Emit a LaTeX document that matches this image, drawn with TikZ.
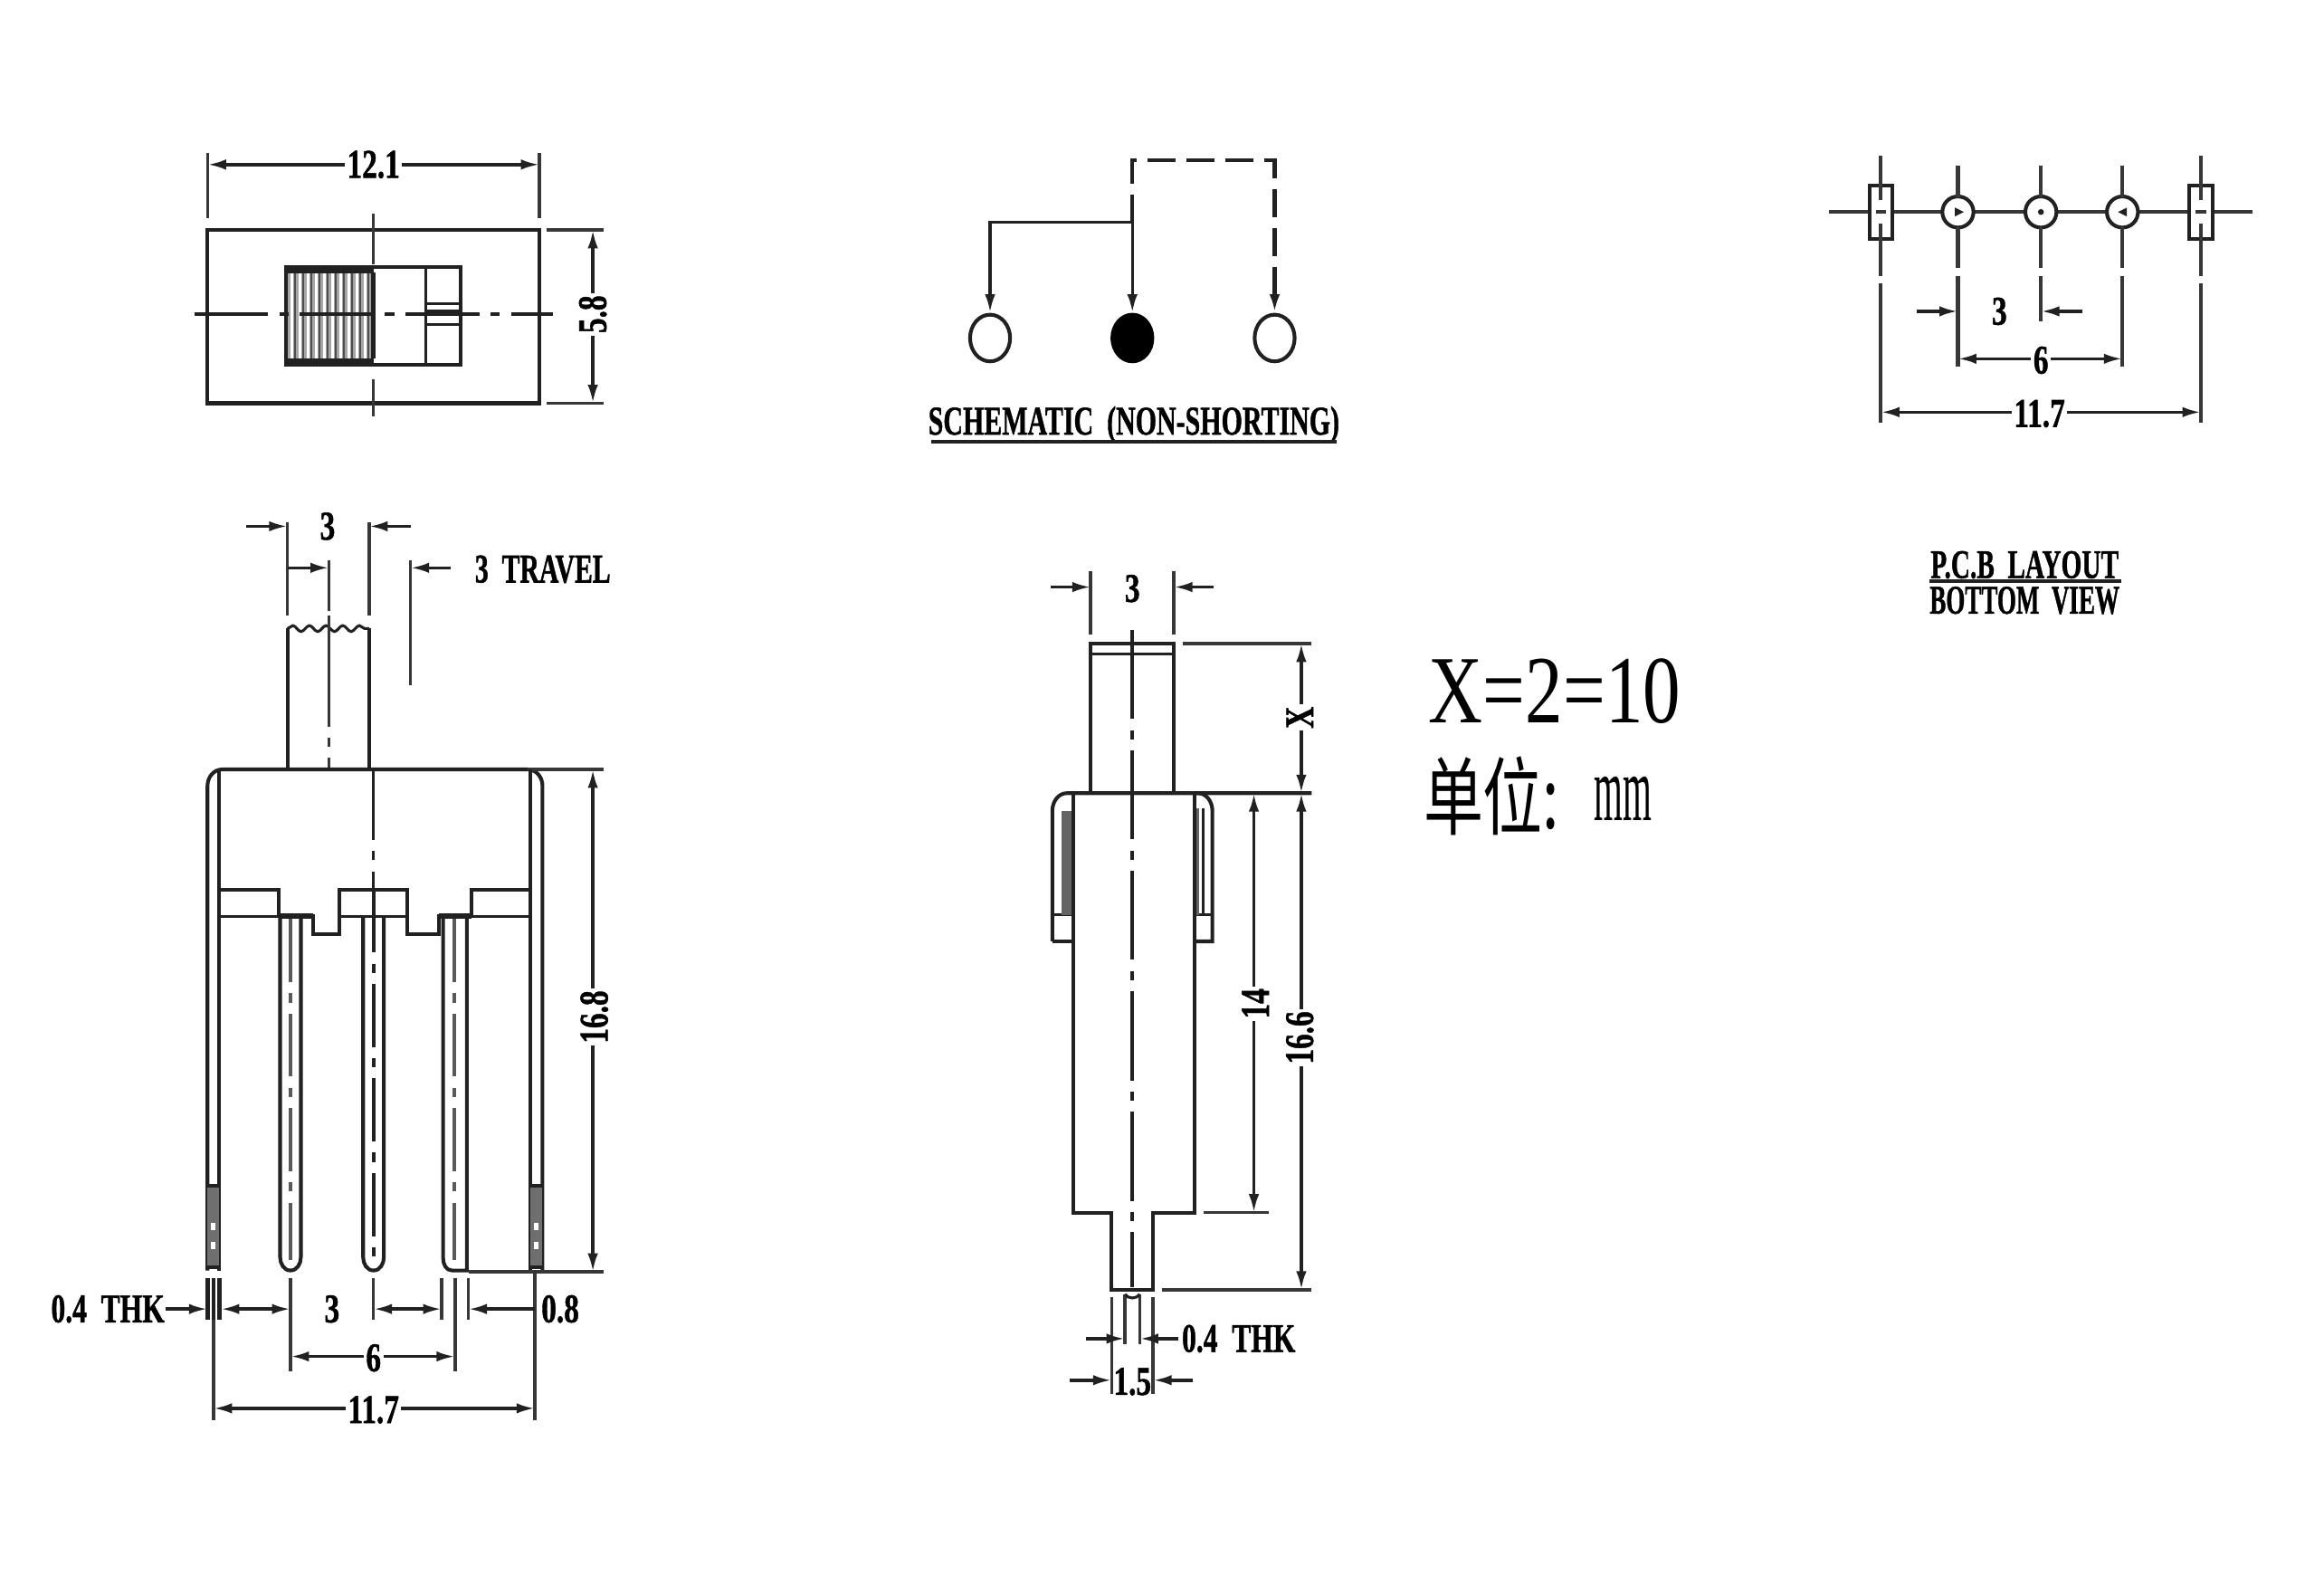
\documentclass[tikz,border=0pt]{standalone}
\usepackage{fontspec}
\usepackage{graphicx}
\setmainfont[BoldFeatures={FakeBold=1.2}]{Liberation Serif}
\newfontfamily\cjkf{Noto Sans CJK SC}
\usetikzlibrary{arrows.meta,decorations.pathmorphing,shapes.geometric}
\newcommand{\lblx}[2]{\scalebox{#1}[1]{\fontsize{11pt}{12pt}\selectfont\bfseries #2}}
\newcommand{\lbl}[1]{\lblx{.74}{#1}}
\definecolor{ink}{gray}{0.13}
\tikzset{
  part/.style={draw=ink,line width=1pt,line join=miter},
  thinp/.style={draw=ink,line width=.75pt},
  ext/.style={draw=ink!90,line width=.85pt},
  dimb/.style={draw=ink,line width=.85pt,{Latex[length=5pt,width=2.8pt]}-{Latex[length=5pt,width=2.8pt]}},
  dime/.style={draw=ink,line width=.85pt,-{Latex[length=5pt,width=2.8pt]}},
  cline/.style={draw=ink,line width=.85pt,dash pattern=on 19pt off 3pt on 2.5pt off 3pt},
  pcline/.style={draw=black!65,line width=1pt,dash pattern=on 17pt off 3pt on 2.5pt off 3pt},
  txt/.style={inner sep=.6pt,fill=white},
  hole/.style={circle,draw=ink,line width=1pt,fill=white,minimum size=8.4pt,inner sep=0pt},
  slot/.style={draw=ink,line width=.95pt,fill=white,minimum width=6.2pt,minimum height=14.4pt,inner sep=0pt},
  term/.style={ellipse,draw=ink,line width=1pt,minimum width=10.8pt,minimum height=12.6pt,inner sep=0pt},
}
\begin{document}
\begin{tikzpicture}[x=0.4pt,y=-0.4pt]
\useasboundingbox (0,0) rectangle (1568,1062.4);
% ---------- top left view
\draw[part] (140,155) rectangle (364,272);
\draw[ext] (140,103)--(140,147) (364,103)--(364,147);
\draw[dimb] (140,111)--(364,111);
\node[txt] (d121) at (252,111) {\lbl{12.1}};
\draw[ext] (369,155)--(407,155) (369,272)--(407,272);
\draw[dimb] (400,155)--(400,272);
\node[txt,rotate=90] (d58) at (400,212) {\lbl{5.8}};
% slider
\fill[gray!70] (193,180) rectangle (252,246);
\foreach \x in {197,202.5,208,213.5,219,224.5,230,235.5,241,246.5}{
  \draw[white,line width=.8pt] (\x,184)--(\x,242);
  \draw[ink!80,line width=.55pt] (\x+2,184)--(\x+2,242);
}
\fill[ink] (193,180) rectangle (252,184.5);
\fill[ink] (193,241.5) rectangle (252,246);
\draw[part] (193,180) rectangle (311,246);
\draw[part,line width=1.3pt] (252,184)--(252,242);
\draw[thinp] (287,180)--(287,246);
\draw[thinp] (287,205)--(311,205) (287,210)--(311,210) (287,219)--(311,219);
\draw[cline,dash pattern=on 20pt off 3pt on 2.5pt off 3pt] (131,212)--(373,212);
\draw[ext] (252,144)--(252,178) (252,256)--(252,281);
% ---------- schematic
\node[term] (sa) at (668,228) {};
\node[term,fill=black,draw=black] (sb) at (764,228) {};
\node[term] (sc) at (860,228) {};
\coordinate (sj) at (764,150);
\coordinate (st) at (764,108);
\coordinate (sr) at (860,108);
\draw[dime] (sj)--(sb.north);
\draw[dime] (sj)--(668,150)--(sa.north);
\draw[draw=ink,line width=1pt,dash pattern=on 7.5pt off 3pt] (sj)--(st)--(sr)--(860,196);
\draw[dime,line width=1pt] (860,196)--(sc.north);
\node (schem) at (765,286.5) {\lblx{.665}{SCHEMATIC\ \ (NON-SHORTING)}};
\draw[draw=ink,line width=1.1pt] (628,298)--(902,298);
% ---------- pcb layout
\draw[ext,line width=1.1pt] (1234,143)--(1520,143);
\node[slot] (pa) at (1269,143) {};
\node[slot] (pe) at (1485,143) {};
\node[hole] (pb) at (1321,143) {};
\node[hole] (pc) at (1377,143) {};
\node[hole] (pd) at (1432,143) {};
\fill[ink] (1319,140)--(1325,143)--(1319,146)--cycle;
\fill[ink] (1377,143) circle (2);
\fill[ink] (1435,140)--(1429,143)--(1435,146)--cycle;
\draw[ext,line width=1pt] (1269,105)--(1269,135) (1269,151)--(1269,186) (1269,191)--(1269,285)
  (1485,105)--(1485,135) (1485,151)--(1485,186) (1485,191)--(1485,285)
  (1321,112)--(1321,133) (1321,153)--(1321,181) (1321,186)--(1321,247)
  (1377,112)--(1377,133) (1377,153)--(1377,181) (1377,186)--(1377,217)
  (1432,112)--(1432,133) (1432,153)--(1432,181) (1432,186)--(1432,247);
\draw[ext,line width=1pt] (1265.5,143)--(1272.5,143) (1481.5,143)--(1488.5,143);
\draw[dime] (1293,210)--(1321,210);
\draw[dime] (1405,210)--(1377,210);
\node (p3) at (1349,210) {\lbl{3}};
\draw[dimb] (1321,242)--(1432,242);
\node[txt] (p6) at (1377,243) {\lbl{6}};
\draw[dimb] (1269,278)--(1485,278);
\node[txt] (p117) at (1376,279) {\lbl{11.7}};
\node (pl1) at (1366,381) {\lblx{.65}{P.C.B\ \ LAYOUT}};
\draw[draw=ink,line width=1.2pt] (1302,392)--(1431,392);
\node (pl2) at (1366,405) {\lblx{.6}{BOTTOM\ \ VIEW}};
% ---------- notes
\node[inner sep=0pt] (xeq) at (1049,466) {\scalebox{.78}[1]{\fontsize{26pt}{28pt}\selectfont X=2=10}};
\node[inner sep=0pt,anchor=west] (unit) at (960,537) {\scalebox{.7}[1]{\fontsize{23pt}{26pt}\selectfont\cjkf 单位:}};
\node[inner sep=0pt,anchor=west] (mm) at (1075,539) {\scalebox{.4}[1]{\fontsize{25pt}{28pt}\selectfont mm}};
% ---------- front view
\draw[part] (194,519)--(194,424) (249,424)--(249,519);
\draw[thinp,decorate,decoration={snake,amplitude=.8pt,segment length=4.5pt}] (194,424)--(249,424);
\draw[ext] (194,352)--(194,415) (249,352)--(249,415);
\draw[dime] (166,355)--(194,355);
\draw[dime] (277,355)--(249,355);
\node (f3) at (221,355) {\lbl{3}};
\draw[dime] (194,383)--(222,383);
\draw[ext] (222,378)--(222,412);
\draw[ext,dash pattern=on 30pt off 3pt on 2.5pt off 3pt] (222,415)--(222,519);
\draw[ext] (277,378)--(277,462);
\draw[dime] (304,383)--(277,383);
\node[anchor=west,inner sep=0pt] (ftr) at (320,384) {\lblx{.66}{3\ \ TRAVEL}};
% body
\draw[part] (140,857)--(140,530) to[out=90,in=180] (150,519)--(356,519) to[out=0,in=90] (366,530)--(366,857);
\draw[ext] (356,519)--(407,519);
\draw[part] (148,519)--(148,857) (358,519)--(358,857);
\draw[part] (148,600)--(188,600)--(188,618)--(211,618)--(211,630)--(229,630)--(229,600)--(275,600)--(275,630)--(296,630)--(296,618)--(318,618)--(318,600)--(358,600);
\draw[thinp] (148,618)--(188,618) (229,618)--(275,618) (318,618)--(358,618);
\draw[draw=ink,line width=1.5pt] (188,618)--(211,618) (296,618)--(318,618);
% side lead tips
\fill[ink!65] (140,800) rectangle (148,855);
\fill[ink!65] (358,800) rectangle (366,855);
\draw[part] (140,800)--(148,800) (358,800)--(366,800) (140,855)--(148,855) (358,855)--(366,855);
\draw[white,line width=1.2pt,dash pattern=on 2pt off 3pt] (144,825)--(144,845);
\draw[white,line width=1.2pt,dash pattern=on 2pt off 3pt] (362,825)--(362,845);
% pins
\draw[part] (189,618)--(189,848) to[out=-90,in=180] (196,857) to[out=0,in=-90] (203,848)--(203,618);
\draw[part] (245,618)--(245,848) to[out=-90,in=180] (252,857) to[out=0,in=-90] (259,848)--(259,618);
\draw[part] (299,618)--(299,849) to[out=-90,in=180] (305,857) -- (315,857) -- (315,618);
\draw[pcline] (196,620)--(196,850);
\draw[pcline] (306.5,620)--(306.5,850);
\draw[cline] (252,519)--(252,600);
\draw[pcline,draw=ink] (252,600)--(252,850);
% 16.8
\draw[ext] (316,858)--(407,858);
\draw[dimb] (400,519)--(400,858);
\node[txt,rotate=90] (d168) at (401,686) {\lbl{16.8}};
% bottom dims
\draw[part,line width=1.1pt] (140,862)--(140,890) (144,862)--(144,890) (148,862)--(148,890);
\draw[ext] (144,890)--(144,958) (361,858)--(361,958);
\draw[ext] (196,862)--(196,925) (252,862)--(252,890) (298,862)--(298,890) (307,862)--(307,925) (316,862)--(316,890);
\node[anchor=west,inner sep=0pt] (thk) at (34,883) {\lblx{.7}{0.4\ \ THK}};
\draw[dime] (112,883)--(140,883);
\draw[dimb] (149,883)--(196,883);
\draw[dimb] (252,883)--(298,883);
\node (b3) at (224,883) {\lbl{3}};
\draw[dime] (361,883)--(316,883);
\node (b08) at (378,883) {\lbl{0.8}};
\draw[dimb] (196,915)--(307,915);
\node[txt] (b6) at (252,916) {\lbl{6}};
\draw[dimb] (144,950)--(361,950);
\node[txt] (b117) at (252,951) {\lbl{11.7}};
% ---------- side view
\draw[part] (736,535)--(736,434)--(792,434)--(792,535);
\draw[thinp] (736,441)--(792,441);
\draw[ext,line width=1pt] (736,385)--(736,428) (792,385)--(792,428);
\draw[dime] (709,396)--(736,396);
\draw[dime] (819,396)--(792,396);
\node (s3) at (764,397) {\lbl{3}};
\draw[cline,line width=1.05pt,dash pattern=on 24pt off 3pt on 2.5pt off 3pt] (764,425)--(764,868);
\draw[ext] (798,434)--(885,434);
\draw[part] (710,635)--(710,547) to[out=90,in=180] (720,535)--(885,535);
\draw[part] (806,535)--(808,535) to[out=0,in=90] (818,547)--(818,635)--(806,635);
\draw[part] (710,635)--(724,635);
\draw[thinp] (710,617)--(724,617) (806,617)--(818,617);
\fill[ink!70] (716,547) rectangle (724,617);
\draw[thinp] (812,545)--(812,617);
\fill[ink!70] (806,545) rectangle (809,617);
\draw[part] (724,535)--(724,818)--(750,818)--(750,870)--(778,870)--(778,818)--(806,818)--(806,535);
\draw[ext] (812,818)--(856,818);
\draw[ext] (784,870)--(885,870);
\draw[dimb] (878,434)--(878,535);
\node[txt,rotate=90] (sx) at (877,484) {\lbl{X}};
\draw[dimb] (846,535)--(846,818);
\node[txt,rotate=90] (s14) at (847,677) {\lbl{14}};
\draw[dimb] (878,535)--(878,870);
\node[txt,rotate=90] (s166) at (877,700) {\lbl{16.6}};
\draw[ext] (750,875)--(750,940) (778,875)--(778,940);
\draw[ext] (759,873)--(759,907) (769,873)--(769,907);
\draw[thinp] (759,873) to[out=-60,in=-120] (769,873);
\draw[dime] (733,903)--(759,903);
\draw[dime] (795,903)--(769,903);
\node[anchor=west,inner sep=0pt] (sthk) at (797,903) {\lblx{.7}{0.4\ \ THK}};
\draw[dime] (722,931)--(750,931);
\draw[dime] (805,931)--(778,931);
\node[inner sep=0pt] (s15) at (764,932) {\lbl{1.5}};
\end{tikzpicture}
\end{document}
